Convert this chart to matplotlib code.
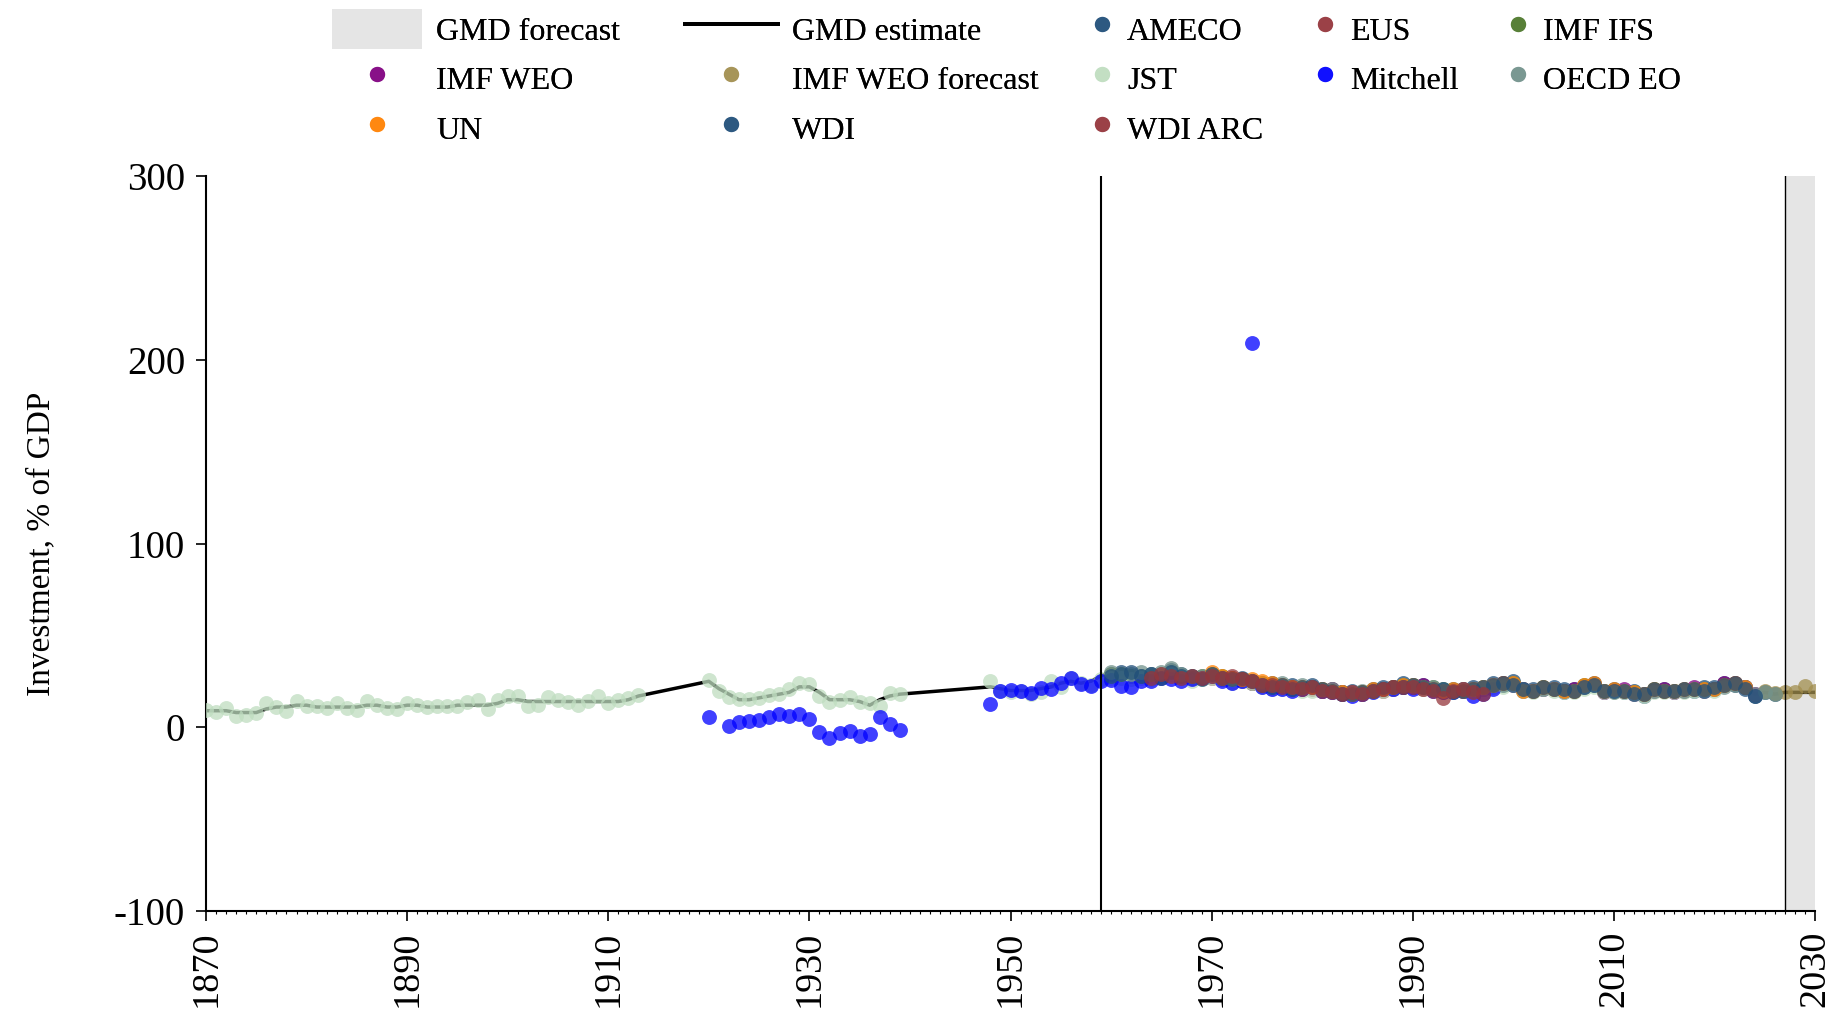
import numpy as np
import matplotlib
matplotlib.use("Agg")
import matplotlib.pyplot as plt
from matplotlib.lines import Line2D
from matplotlib.patches import Patch

plt.rcParams['font.family'] = ['Liberation Serif', 'DejaVu Serif']

# ---------------- data ----------------
# GMD estimate (line)
gmd_seg1_start = 1870
gmd_seg1 = [9, 9, 9, 8, 8, 8, 10, 11, 11, 12, 12, 11, 11, 11, 11, 11, 12, 12, 11, 11,
            12, 12, 11, 11, 11, 12, 12, 12, 12, 13, 15, 15, 14, 14, 14, 14, 14, 14, 14, 14,
            14, 14, 15, 17]
gmd_seg2_start = 1920
gmd_seg2 = [25, 21, 18, 15, 15, 16, 17, 18, 19, 22, 22, 19, 15, 15, 15, 14, 12, 15, 17, 18]
gmd_seg3_start = 1948
gmd_seg3 = [22, 21, 20, 20, 20, 21, 22, 24, 25, 24, 25,
            28, 30, 29, 29, 28, 28, 29, 30, 28, 27, 28, 29, 28, 26, 26, 25, 24, 23, 23, 22,
            22, 22, 21, 21, 19, 19, 19, 20, 21, 22, 23, 23, 22, 22, 21, 20, 21, 21, 22, 23,
            24, 24, 21, 20, 22, 21, 20, 20, 23, 23, 20, 20, 20, 19, 18, 21, 20, 20, 20, 21,
            21, 21, 23, 24, 22, 18, 19, 18, 19, 19, 19, 19]

# JST
jst_seg1_start = 1870
jst_seg1 = [9.6, 8.1, 10.5, 6.3, 6.5, 7.7, 13.2, 11, 8.7, 14.1, 11.7, 11.4, 10.5, 13.2, 10.5,
            9.6, 14.1, 12.3, 10.5, 9.9, 13.2, 12.3, 11, 11.7, 11.5, 11.4, 13.5, 14.6, 9.9, 14.6,
            17.2, 17.2, 11.7, 12.3, 16.4, 14.6, 13.5, 12.3, 14.1, 17.2, 13.2, 14.6, 15.9, 17.7]
jst_seg2_start = 1920
jst_seg2 = [25.8, 20, 16.4, 15.5, 15.3, 16, 17.5, 18, 21, 24, 23.6, 17, 14, 15, 16.4, 14, 13,
            11.3, 18.6, 18.2]
jst_seg3_start = 1948
jst_seg3 = [25, 20, 19, 20, 18, 19, 25, 22, 27, 24, 23,
            26, 27, 27, 26, 27, 26, 27, 29, 27, 25, 26, 27, 26, 24, 25, 24, 22, 21, 21, 21,
            20, 20, 20, 19, 18, 18, 18, 19, 20, 21, 22, 22, 21, 21, 20, 19, 20, 20, 21, 22,
            22, 23, 20, 19, 21, 20, 19, 19, 21, 22, 19, 19, 19, 18, 17, 19, 19, 19, 19, 20,
            20, 20]

# Mitchell
mitchell_seg1_years = [1920, 1922, 1923, 1924, 1925, 1926, 1927, 1928, 1929, 1930, 1931, 1932,
                       1933, 1934, 1935, 1936, 1937, 1938, 1939]
mitchell_seg1 = [5.6, 0.9, 2.7, 3.2, 3.8, 5.6, 7.2, 6.3, 7.0, 4.7, -2.8, -5.8, -3.1, -2.2,
                 -4.6, -3.5, 5.4, 1.9, -1.7]
mitchell_seg2_start = 1948
mitchell_seg2 = [12.5, 20, 20.5, 19.5, 18.5, 21.5, 20.8, 24, 26.7, 23.6,
                 22.2, 25.3, 25.8, 22.2, 21.8, 24.9, 25, 27, 26, 25,
                 26, 27, 28, 25, 24, 25, 209, 22, 21, 21,
                 20, 21, 22, 20, 19, 18, 17, 18, 19, 21,
                 21, 22, 21, 22, 20, 19, 19, 20, 17, 18, 21]

ameco_start = 1960
ameco = [29, 30, 28, 28, 29, 28, 31, 29, 27, 27, 28, 27, 27, 26, 24, 23, 24, 22, 23, 21,
         22, 20, 20, 19, 20, 18, 21, 21, 21, 24, 22, 23, 21, 20, 21, 20, 22, 21, 24, 23,
         25, 20, 21, 21, 22, 19, 21, 22, 24, 19, 21, 19, 20, 17, 20, 21, 19, 21, 20, 22,
         21, 24, 23, 22, 17, 19, 18]

eus_start = 1970
eus = [27, 26, 27, 25, 24, 23, 22, 23, 21, 21, 21, 20, 19, 18, 18, 19, 20, 20, 21, 22,
       22, 21, 21, 19, 20, 20]

imf_ifs_start = 1960
imf_ifs = [29, 29, 28, 28, 28, 29, 30, 28, 27, 28, 29, 28, 26, 26, 25, 24, 23, 23, 22, 22,
           22, 21, 21, 19, 19, 19, 20, 21, 22, 23, 23, 22, 22, 21, 20, 21, 21, 22, 23, 24,
           24, 21, 20, 22, 21, 20, 20, 23, 23, 20, 20, 20, 19, 18, 21, 20, 20, 20, 21, 21,
           21, 23, 24, 22]

imf_weo_start = 1980
imf_weo = [22, 20, 21, 19, 19, 18, 20, 21, 22, 22, 22, 23, 21, 20, 20, 21, 21, 21, 23, 24,
           23, 21, 20, 21, 21, 20, 21, 22, 23, 19, 20, 21, 18, 18, 20, 21, 19, 20, 22, 20,
           21, 24, 24, 22, 18]

imf_weo_fc_start = 2025
imf_weo_fc = [19.5, 18.5, 19, 19, 22.5, 20]

oecd_start = 1960
oecd = [30, 29, 29, 30, 29, 30, 32, 29, 28, 28, 28, 27, 26, 26, 25, 24, 23, 24, 22, 23,
        22, 21, 21, 19, 19, 20, 20, 21, 22, 23, 23, 22, 22, 21, 20, 21, 21, 22, 23, 23,
        24, 21, 20, 21, 21, 20, 20, 22, 23, 20, 19, 20, 19, 18, 20, 20, 20, 20, 21, 21,
        21, 22, 23, 22, 18, 19, 18]

un_start = 1970
un = [30, 28, 27, 26, 26, 25, 24, 23, 22, 22, 22, 21, 20, 19, 18, 19, 21, 21, 22, 23,
      23, 22, 21, 20, 21, 20, 21, 22, 23, 24, 24, 20, 20, 22, 21, 20, 20, 23, 24, 20,
      21, 20, 19, 18, 21, 20, 20, 21, 21, 21, 21, 23, 24, 22]

wdi_start = 1960
wdi = [28, 29, 30, 28, 29, 27, 30, 28, 28, 26, 29, 27, 26, 27, 25, 23, 22, 23, 21, 22,
       23, 21, 20, 18, 18, 19, 20, 22, 22, 22, 23, 22, 21, 21, 19, 20, 21, 22, 23, 24,
       23, 21, 20, 22, 21, 21, 20, 22, 23, 20, 20, 20, 18, 18, 21, 20, 20, 21, 21, 20,
       22, 23, 24, 21, 17]

wdi_arc_start = 1964
wdi_arc = [27, 29, 28, 27, 28, 27, 28, 27, 28, 26, 25, 23, 23, 22, 22, 21, 22, 20, 19, 18,
           19, 18, 20, 21, 22, 22, 22, 21, 20, 16, 20, 21, 19, 18]

x_ticks = [1870, 1890, 1910, 1930, 1950, 1970, 1990, 2010, 2030]
y_ticks = [-100, 0, 100, 200, 300]
y_label = "Investment, % of GDP"
break_year = 1959
forecast_start = 2027

# ---------------- helpers ----------------
def yrs(start, vals):
    return list(range(start, start + len(vals)))

gmd_x = yrs(gmd_seg1_start, gmd_seg1) + yrs(gmd_seg2_start, gmd_seg2) + yrs(gmd_seg3_start, gmd_seg3)
gmd_y = gmd_seg1 + gmd_seg2 + gmd_seg3

jst_x = yrs(jst_seg1_start, jst_seg1) + yrs(jst_seg2_start, jst_seg2) + yrs(jst_seg3_start, jst_seg3)
jst_y = jst_seg1 + jst_seg2 + jst_seg3

mit_x = mitchell_seg1_years + yrs(mitchell_seg2_start, mitchell_seg2)
mit_y = mitchell_seg1 + mitchell_seg2

ALPHA = 0.75
sources = [
    ("AMECO", yrs(ameco_start, ameco), ameco, "#1f4e79"),
    ("EUS", yrs(eus_start, eus), eus, "#95353b"),
    ("IMF IFS", yrs(imf_ifs_start, imf_ifs), imf_ifs, "#4d782b"),
    ("IMF WEO", yrs(imf_weo_start, imf_weo), imf_weo, "#800080"),
    ("IMF WEO forecast", yrs(imf_weo_fc_start, imf_weo_fc), imf_weo_fc, "#a28e4e"),
    ("JST", jst_x, jst_y, "#bfddc0"),
    ("Mitchell", mit_x, mit_y, "#0000ff"),
    ("OECD EO", yrs(oecd_start, oecd), oecd, "#72928b"),
    ("UN", yrs(un_start, un), un, "#ff8000"),
    ("WDI", yrs(wdi_start, wdi), wdi, "#1f4e79"),
    ("WDI ARC", yrs(wdi_arc_start, wdi_arc), wdi_arc, "#95353b"),
]

# ---------------- figure ----------------
W, H = 1837, 1017
fig = plt.figure(figsize=(W / 100, H / 100), dpi=100)
ax = fig.add_axes([206 / W, 1 - 911 / H, (1815 - 206) / W, (911 - 176) / H])

ax.axvspan(forecast_start, 2030, color="#e5e5e5", lw=0, zorder=0)
ax.plot(gmd_x, gmd_y, color="black", lw=2.5, zorder=2)
for i, (name, xs, ys, col) in enumerate(sources):
    ax.scatter(xs, ys, s=115, color=col, alpha=ALPHA, lw=0, zorder=3 + i * 0.01)
ax.axvline(break_year, color="black", lw=1.5, zorder=10)
ax.axvline(forecast_start, color="black", lw=1.0, zorder=10)

ax.set_xlim(1870, 2030)
ax.set_ylim(-100, 300)
ax.set_xticks(x_ticks)
ax.set_xticks(range(1870, 2031), minor=True)
ax.set_yticks(y_ticks)
ax.set_yticklabels([str(v) for v in y_ticks])
for s in ["top", "right"]:
    ax.spines[s].set_visible(False)
for s in ["left", "bottom"]:
    ax.spines[s].set_linewidth(1.5)
ax.tick_params(axis="x", which="major", length=7, width=1.2, labelsize=27.5, rotation=90, pad=7)
ax.tick_params(axis="x", which="minor", length=2.5, width=0.8)
ax.tick_params(axis="y", which="major", length=7, width=1.2, labelsize=28, pad=8)
ax.set_ylabel(y_label, fontsize=24)
ax.yaxis.set_label_coords(-0.093, 0.5)

# ---------------- legend (5 columns) ----------------
FS = 23
color_of = {n: c for n, _, _, c in sources}

def mk(name):
    return Line2D([], [], marker="o", ls="", markersize=11, markeredgewidth=0,
                  color=color_of[name], alpha=ALPHA)

columns = [
    (332, [Patch(facecolor="#e5e5e5", edgecolor="none"), mk("IMF WEO"), mk("UN")],
     ["GMD forecast", "IMF WEO", "UN"], 2.83, 0.44),
    (685, [Line2D([], [], color="black", lw=2.8), mk("IMF WEO forecast"), mk("WDI")],
     ["GMD estimate", "IMF WEO forecast", "WDI"], 2.9, 0.44),
    (1089, [mk("AMECO"), mk("JST"), mk("WDI ARC")], ["AMECO", "JST", "WDI ARC"], 0.81, 0.38),
    (1312, [mk("EUS"), mk("Mitchell")], ["EUS", "Mitchell"], 0.81, 0.38),
    (1505, [mk("IMF IFS"), mk("OECD EO")], ["IMF IFS", "OECD EO"], 0.81, 0.38),
]
for x0, handles, labels, hl, htp in columns:
    leg = fig.legend(handles, labels, loc="upper left",
                     bbox_to_anchor=(x0 / W, 1 - 9 / H), bbox_transform=fig.transFigure,
                     frameon=False, fontsize=FS, handlelength=hl, handleheight=1.55,
                     handletextpad=htp, labelspacing=0.31, borderpad=0, borderaxespad=0)
    fig.add_artist(leg)

fig.savefig("out.png", dpi=100)
